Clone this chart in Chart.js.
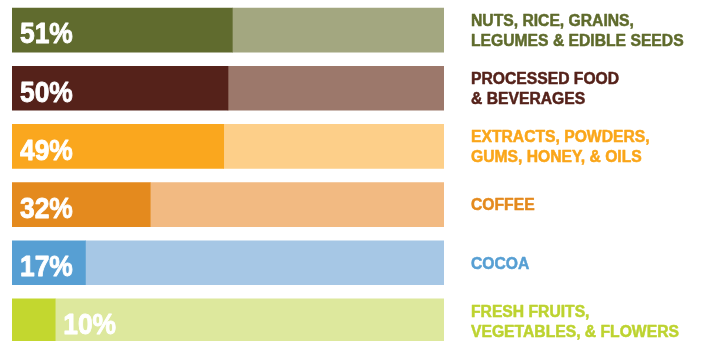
<!DOCTYPE html>
<html>
<head>
<meta charset="utf-8">
<script src="https://cdn.jsdelivr.net/npm/chart.js@4/dist/chart.umd.min.js"></script>
<style>
  html, body { margin: 0; padding: 0; background: #ffffff; overflow: hidden; }
  #wrap { position: relative; width: 701px; height: 351px; }
</style>
</head>
<body>
<div id="wrap"><canvas id="c" width="701" height="351"></canvas></div>
<script>
const categories = [
  ["NUTS, RICE, GRAINS,", "LEGUMES & EDIBLE SEEDS"],
  ["PROCESSED FOOD", "& BEVERAGES"],
  ["EXTRACTS, POWDERS,", "GUMS, HONEY, & OILS"],
  ["COFFEE"],
  ["COCOA"],
  ["FRESH FRUITS,", "VEGETABLES, & FLOWERS"]
];
const shares = [51, 50, 49, 32, 17, 10];
const remainder = shares.map(v => 100 - v);
const darkColors  = ["#606B2E", "#55221A", "#FAA71E", "#E48A1E", "#579FD3", "#C3D72F"];
const lightColors = ["#A3A780", "#9C786B", "#FDCF89", "#F2BA82", "#A6C7E5", "#DDE89D"];
const textColors  = ["#5F6B2C", "#55221A", "#FAA61A", "#E48A1E", "#579FD3", "#BDD330"];

const FONT = "'Liberation Sans', Arial, sans-serif";

const labelsPlugin = {
  id: 'labelsPlugin',
  afterDatasetsDraw(chart) {
    const ctx = chart.ctx;
    const meta = chart.getDatasetMeta(0);
    const area = chart.chartArea;
    ctx.save();
    ctx.textAlign = "left";
    ctx.textBaseline = "alphabetic";
    ctx.lineJoin = "round";
    meta.data.forEach((bar, i) => {
      // percentage inside the bar
      const sx = 0.88;
      ctx.font = "bold 30px " + FONT;
      ctx.fillStyle = "#ffffff";
      ctx.strokeStyle = "#ffffff";
      ctx.lineWidth = 0.9;
      const txt = shares[i] + "%";
      const w = ctx.measureText(txt).width * sx;
      const start = Math.min(bar.base, bar.x);
      const end = Math.max(bar.base, bar.x);
      let x = start + 8;
      if (x + w + 4 > end) x = end + 8;
      ctx.save();
      ctx.translate(x, bar.y + 13.3);
      ctx.scale(sx, 1);
      ctx.fillText(txt, 0, 0);
      ctx.strokeText(txt, 0, 0);
      ctx.restore();

      // category label on the right
      const lines = categories[i];
      ctx.font = "bold 16px " + FONT;
      ctx.fillStyle = textColors[i];
      ctx.strokeStyle = textColors[i];
      ctx.lineWidth = 0.5;
      const lx = area.right + 27;
      lines.forEach((ln, k) => {
        const by = bar.y + 5.8 - (lines.length - 1) * 10 + k * 20;
        ctx.save();
        ctx.translate(lx, by);
        ctx.scale(0.98, 1.06);
        ctx.fillText(ln, 0, 0);
        ctx.strokeText(ln, 0, 0);
        ctx.restore();
      });
    });
    ctx.restore();
  }
};

new Chart(document.getElementById('c'), {
  type: 'bar',
  data: {
    labels: categories,
    datasets: [
      { data: shares, backgroundColor: darkColors, barThickness: 44, borderWidth: 0 },
      { data: remainder, backgroundColor: lightColors, barThickness: 44, borderWidth: 0 }
    ]
  },
  options: {
    indexAxis: 'y',
    responsive: false,
    animation: false,
    layout: { padding: { left: 12, top: 1, right: 257, bottom: 1 } },
    plugins: { legend: { display: false }, tooltip: { enabled: false } },
    scales: {
      x: { stacked: true, min: 0, max: 100, display: false },
      y: { stacked: true, display: false }
    }
  },
  plugins: [labelsPlugin]
});
</script>
</body>
</html>
